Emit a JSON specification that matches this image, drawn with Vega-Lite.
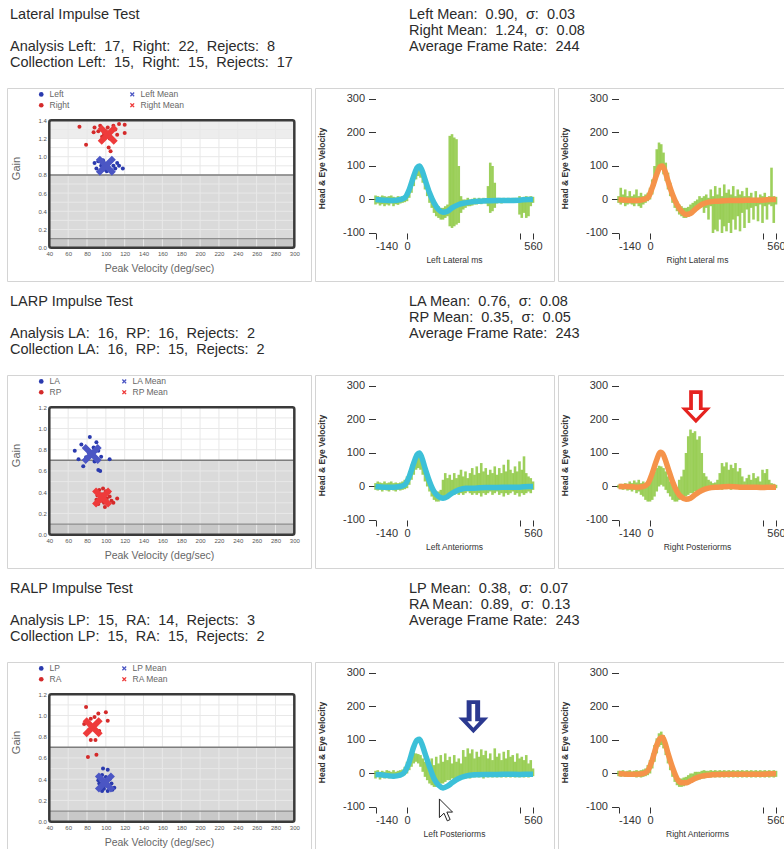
{
"$schema":"https://vega.github.io/schema/vega-lite/v6.json",
"padding":{"left":6,"top":0,"right":0,"bottom":0},
"background":"white",
"config":{"font":"Liberation Sans","view":{"stroke":"#d4d4d4","strokeWidth":1},"axis":{"labelFont":"Liberation Sans","titleFont":"Liberation Sans","labelOverlap":false,"labelSeparation":0},"legend":{"labelFont":"Liberation Sans"}},
"datasets":{
"hdr":[
{"r":1,"b":"L","ln":1,"txt":"Lateral Impulse Test"},
{"r":1,"b":"L","ln":3,"txt":"Analysis Left:\u00a0 17,\u00a0 Right:\u00a0 22,\u00a0 Rejects:\u00a0 8"},
{"r":1,"b":"L","ln":4,"txt":"Collection Left:\u00a0 15,\u00a0 Right:\u00a0 15,\u00a0 Rejects:\u00a0 17"},
{"r":1,"b":"R","ln":1,"txt":"Left Mean:\u00a0 0.90,\u00a0 σ:\u00a0 0.03"},
{"r":1,"b":"R","ln":2,"txt":"Right Mean:\u00a0 1.24,\u00a0 σ:\u00a0 0.08"},
{"r":1,"b":"R","ln":3,"txt":"Average Frame Rate:\u00a0 244"},
{"r":2,"b":"L","ln":1,"txt":"LARP Impulse Test"},
{"r":2,"b":"L","ln":3,"txt":"Analysis LA:\u00a0 16,\u00a0 RP:\u00a0 16,\u00a0 Rejects:\u00a0 2"},
{"r":2,"b":"L","ln":4,"txt":"Collection LA:\u00a0 16,\u00a0 RP:\u00a0 15,\u00a0 Rejects:\u00a0 2"},
{"r":2,"b":"R","ln":1,"txt":"LA Mean:\u00a0 0.76,\u00a0 σ:\u00a0 0.08"},
{"r":2,"b":"R","ln":2,"txt":"RP Mean:\u00a0 0.35,\u00a0 σ:\u00a0 0.05"},
{"r":2,"b":"R","ln":3,"txt":"Average Frame Rate:\u00a0 243"},
{"r":3,"b":"L","ln":1,"txt":"RALP Impulse Test"},
{"r":3,"b":"L","ln":3,"txt":"Analysis LP:\u00a0 15,\u00a0 RA:\u00a0 14,\u00a0 Rejects:\u00a0 3"},
{"r":3,"b":"L","ln":4,"txt":"Collection LP:\u00a0 15,\u00a0 RA:\u00a0 15,\u00a0 Rejects:\u00a0 2"},
{"r":3,"b":"R","ln":1,"txt":"LP Mean:\u00a0 0.38,\u00a0 σ:\u00a0 0.07"},
{"r":3,"b":"R","ln":2,"txt":"RA Mean:\u00a0 0.89,\u00a0 σ:\u00a0 0.13"},
{"r":3,"b":"R","ln":3,"txt":"Average Frame Rate:\u00a0 243"}
],
"gx":[{"x":60},{"x":80},{"x":100},{"x":120},{"x":140},{"x":160},{"x":180},{"x":200},{"x":220},{"x":240},{"x":260},{"x":280}],
"gy":[{"y":0.2},{"y":0.3},{"y":0.4},{"y":0.5},{"y":0.6},{"y":0.7},{"y":0.8},{"y":0.9},{"y":1.0},{"y":1.1},{"y":1.2},{"y":1.3}],
"pts":[
{"r":1,"s":"Left","v":88,"g":0.93},{"r":1,"s":"Left","v":90,"g":0.87},{"r":1,"s":"Left","v":92,"g":0.95},{"r":1,"s":"Left","v":94,"g":0.84},{"r":1,"s":"Left","v":95,"g":0.9},{"r":1,"s":"Left","v":97,"g":0.96},{"r":1,"s":"Left","v":98,"g":0.86},{"r":1,"s":"Left","v":100,"g":0.92},{"r":1,"s":"Left","v":101,"g":0.84},{"r":1,"s":"Left","v":103,"g":0.88},{"r":1,"s":"Left","v":105,"g":0.95},{"r":1,"s":"Left","v":106,"g":0.85},{"r":1,"s":"Left","v":108,"g":0.9},{"r":1,"s":"Left","v":110,"g":0.87},{"r":1,"s":"Left","v":112,"g":0.93},{"r":1,"s":"Left","v":114,"g":0.9},{"r":1,"s":"Left","v":118,"g":0.87},
{"r":1,"s":"Right","v":72,"g":1.33},{"r":1,"s":"Right","v":79,"g":1.13},{"r":1,"s":"Right","v":87,"g":1.27},{"r":1,"s":"Right","v":88,"g":1.32},{"r":1,"s":"Right","v":94,"g":1.34},{"r":1,"s":"Right","v":97,"g":1.3},{"r":1,"s":"Right","v":103,"g":1.1},{"r":1,"s":"Right","v":105,"g":1.06},{"r":1,"s":"Right","v":108,"g":1.34},{"r":1,"s":"Right","v":112,"g":1.24},{"r":1,"s":"Right","v":114,"g":1.36},{"r":1,"s":"Right","v":120,"g":1.26},{"r":1,"s":"Right","v":120,"g":1.35},{"r":1,"s":"Right","v":96,"g":1.22},{"r":1,"s":"Right","v":100,"g":1.28},{"r":1,"s":"Right","v":104,"g":1.2},{"r":1,"s":"Right","v":106,"g":1.28},{"r":1,"s":"Right","v":98,"g":1.25},{"r":1,"s":"Right","v":110,"g":1.3},{"r":1,"s":"Right","v":102,"g":1.32},{"r":1,"s":"Right","v":92,"g":1.28},{"r":1,"s":"Right","v":108,"g":1.18},
{"r":2,"s":"LA","v":83,"g":0.92},{"r":2,"s":"LA","v":74,"g":0.85},{"r":2,"s":"LA","v":67,"g":0.79},{"r":2,"s":"LA","v":71,"g":0.71},{"r":2,"s":"LA","v":76,"g":0.645},{"r":2,"s":"LA","v":90,"g":0.87},{"r":2,"s":"LA","v":92,"g":0.79},{"r":2,"s":"LA","v":92,"g":0.61},{"r":2,"s":"LA","v":94,"g":0.6},{"r":2,"s":"LA","v":104,"g":0.71},{"r":2,"s":"LA","v":79,"g":0.73},{"r":2,"s":"LA","v":88,"g":0.69},{"r":2,"s":"LA","v":87,"g":0.82},{"r":2,"s":"LA","v":82,"g":0.77},{"r":2,"s":"LA","v":95,"g":0.735},{"r":2,"s":"LA","v":86,"g":0.74},
{"r":2,"s":"RP","v":97,"g":0.435},{"r":2,"s":"RP","v":91,"g":0.37},{"r":2,"s":"RP","v":92,"g":0.29},{"r":2,"s":"RP","v":99,"g":0.26},{"r":2,"s":"RP","v":106,"g":0.32},{"r":2,"s":"RP","v":112,"g":0.34},{"r":2,"s":"RP","v":103,"g":0.4},{"r":2,"s":"RP","v":95,"g":0.32},{"r":2,"s":"RP","v":101,"g":0.34},{"r":2,"s":"RP","v":93,"g":0.42},{"r":2,"s":"RP","v":96,"g":0.38},{"r":2,"s":"RP","v":98,"g":0.3},{"r":2,"s":"RP","v":104,"g":0.36},{"r":2,"s":"RP","v":90,"g":0.33},{"r":2,"s":"RP","v":100,"g":0.41},{"r":2,"s":"RP","v":108,"g":0.3},
{"r":3,"s":"LP","v":97,"g":0.5},{"r":3,"s":"LP","v":102,"g":0.49},{"r":3,"s":"LP","v":92,"g":0.39},{"r":3,"s":"LP","v":109,"g":0.32},{"r":3,"s":"LP","v":96,"g":0.29},{"r":3,"s":"LP","v":102,"g":0.29},{"r":3,"s":"LP","v":96,"g":0.44},{"r":3,"s":"LP","v":104,"g":0.4},{"r":3,"s":"LP","v":100,"g":0.34},{"r":3,"s":"LP","v":94,"g":0.33},{"r":3,"s":"LP","v":106,"g":0.36},{"r":3,"s":"LP","v":98,"g":0.31},{"r":3,"s":"LP","v":100,"g":0.42},{"r":3,"s":"LP","v":93,"g":0.36},{"r":3,"s":"LP","v":107,"g":0.3},
{"r":3,"s":"RA","v":79,"g":1.08},{"r":3,"s":"RA","v":92,"g":1.02},{"r":3,"s":"RA","v":100,"g":1.03},{"r":3,"s":"RA","v":77,"g":0.92},{"r":3,"s":"RA","v":102,"g":0.95},{"r":3,"s":"RA","v":84,"g":0.97},{"r":3,"s":"RA","v":84,"g":0.77},{"r":3,"s":"RA","v":89,"g":0.77},{"r":3,"s":"RA","v":81,"g":0.61},{"r":3,"s":"RA","v":90,"g":0.63},{"r":3,"s":"RA","v":93,"g":0.855},{"r":3,"s":"RA","v":88,"g":0.985},{"r":3,"s":"RA","v":82,"g":0.86},{"r":3,"s":"RA","v":90,"g":0.92}
],
"mns":[
{"r":1,"s":"Left Mean","v":100,"g":0.9},{"r":1,"s":"Right Mean","v":102,"g":1.24},
{"r":2,"s":"LA Mean","v":85,"g":0.76},{"r":2,"s":"RP Mean","v":96,"g":0.35},
{"r":3,"s":"LP Mean","v":99,"g":0.37},{"r":3,"s":"RA Mean","v":86,"g":0.89}
],
"grn":[
{"p":"1b","t":-140,"lo":-15,"hi":12},{"p":"1b","t":-130,"lo":-12,"hi":10},{"p":"1b","t":-120,"lo":-18,"hi":8},{"p":"1b","t":-110,"lo":-14,"hi":12},{"p":"1b","t":-100,"lo":-20,"hi":10},{"p":"1b","t":-90,"lo":-15,"hi":8},{"p":"1b","t":-80,"lo":-18,"hi":10},{"p":"1b","t":-70,"lo":-12,"hi":12},{"p":"1b","t":-60,"lo":-20,"hi":8},{"p":"1b","t":-50,"lo":-14,"hi":6},{"p":"1b","t":-40,"lo":-16,"hi":10},{"p":"1b","t":-30,"lo":-12,"hi":8},{"p":"1b","t":-20,"lo":-10,"hi":10},{"p":"1b","t":-10,"lo":-8,"hi":12},{"p":"1b","t":0,"lo":-5,"hi":20},{"p":"1b","t":10,"lo":5,"hi":35},{"p":"1b","t":20,"lo":20,"hi":55},{"p":"1b","t":30,"lo":40,"hi":75},{"p":"1b","t":40,"lo":60,"hi":92},{"p":"1b","t":50,"lo":70,"hi":98},{"p":"1b","t":60,"lo":65,"hi":95},{"p":"1b","t":70,"lo":50,"hi":85},{"p":"1b","t":80,"lo":30,"hi":65},{"p":"1b","t":90,"lo":10,"hi":45},{"p":"1b","t":100,"lo":-10,"hi":25},{"p":"1b","t":110,"lo":-25,"hi":10},{"p":"1b","t":120,"lo":-40,"hi":-5},{"p":"1b","t":130,"lo":-50,"hi":-15},{"p":"1b","t":140,"lo":-55,"hi":-20},{"p":"1b","t":150,"lo":-60,"hi":-25},{"p":"1b","t":160,"lo":-60,"hi":-25},{"p":"1b","t":170,"lo":-55,"hi":-20},{"p":"1b","t":180,"lo":-50,"hi":-15},{"p":"1b","t":190,"lo":-80,"hi":190},{"p":"1b","t":200,"lo":-85,"hi":195},{"p":"1b","t":210,"lo":-80,"hi":185},{"p":"1b","t":220,"lo":-75,"hi":180},{"p":"1b","t":230,"lo":-70,"hi":100},{"p":"1b","t":240,"lo":-40,"hi":10},{"p":"1b","t":250,"lo":-30,"hi":0},{"p":"1b","t":260,"lo":-25,"hi":0},{"p":"1b","t":270,"lo":-20,"hi":5},{"p":"1b","t":280,"lo":-20,"hi":0},{"p":"1b","t":290,"lo":-18,"hi":2},{"p":"1b","t":300,"lo":-15,"hi":5},{"p":"1b","t":310,"lo":-15,"hi":0},{"p":"1b","t":320,"lo":-12,"hi":5},{"p":"1b","t":330,"lo":-14,"hi":2},{"p":"1b","t":340,"lo":-10,"hi":5},{"p":"1b","t":350,"lo":-12,"hi":3},{"p":"1b","t":360,"lo":-20,"hi":40},{"p":"1b","t":370,"lo":-40,"hi":110},{"p":"1b","t":380,"lo":-35,"hi":100},{"p":"1b","t":390,"lo":-25,"hi":50},{"p":"1b","t":400,"lo":-12,"hi":5},{"p":"1b","t":410,"lo":-10,"hi":5},{"p":"1b","t":420,"lo":-12,"hi":3},{"p":"1b","t":430,"lo":-10,"hi":5},{"p":"1b","t":440,"lo":-8,"hi":4},{"p":"1b","t":450,"lo":-10,"hi":5},{"p":"1b","t":460,"lo":-8,"hi":3},{"p":"1b","t":470,"lo":-10,"hi":5},{"p":"1b","t":480,"lo":-8,"hi":5},{"p":"1b","t":490,"lo":-10,"hi":3},{"p":"1b","t":500,"lo":-45,"hi":10},{"p":"1b","t":510,"lo":-55,"hi":5},{"p":"1b","t":520,"lo":-40,"hi":8},{"p":"1b","t":530,"lo":-55,"hi":10},{"p":"1b","t":540,"lo":-50,"hi":8},{"p":"1b","t":550,"lo":-20,"hi":10},{"p":"1b","t":560,"lo":-10,"hi":8},
{"p":"1c","t":-140,"lo":-10,"hi":10},{"p":"1c","t":-130,"lo":-15,"hi":35},{"p":"1c","t":-120,"lo":-10,"hi":15},{"p":"1c","t":-110,"lo":-20,"hi":30},{"p":"1c","t":-100,"lo":-15,"hi":10},{"p":"1c","t":-90,"lo":-12,"hi":25},{"p":"1c","t":-80,"lo":-15,"hi":10},{"p":"1c","t":-70,"lo":-20,"hi":15},{"p":"1c","t":-60,"lo":-12,"hi":30},{"p":"1c","t":-50,"lo":-20,"hi":10},{"p":"1c","t":-40,"lo":-25,"hi":20},{"p":"1c","t":-30,"lo":-15,"hi":10},{"p":"1c","t":-20,"lo":-10,"hi":15},{"p":"1c","t":-10,"lo":-5,"hi":20},{"p":"1c","t":0,"lo":0,"hi":35},{"p":"1c","t":10,"lo":15,"hi":60},{"p":"1c","t":20,"lo":40,"hi":100},{"p":"1c","t":30,"lo":70,"hi":150},{"p":"1c","t":40,"lo":90,"hi":170},{"p":"1c","t":50,"lo":90,"hi":165},{"p":"1c","t":60,"lo":75,"hi":140},{"p":"1c","t":70,"lo":55,"hi":110},{"p":"1c","t":80,"lo":30,"hi":80},{"p":"1c","t":90,"lo":10,"hi":50},{"p":"1c","t":100,"lo":-10,"hi":25},{"p":"1c","t":110,"lo":-25,"hi":5},{"p":"1c","t":120,"lo":-35,"hi":-5},{"p":"1c","t":130,"lo":-45,"hi":-15},{"p":"1c","t":140,"lo":-50,"hi":-20},{"p":"1c","t":150,"lo":-55,"hi":-25},{"p":"1c","t":160,"lo":-55,"hi":-25},{"p":"1c","t":170,"lo":-52,"hi":-22},{"p":"1c","t":180,"lo":-45,"hi":-15},{"p":"1c","t":190,"lo":-40,"hi":-10},{"p":"1c","t":200,"lo":-35,"hi":-5},{"p":"1c","t":210,"lo":-30,"hi":0},{"p":"1c","t":220,"lo":-25,"hi":10},{"p":"1c","t":230,"lo":-20,"hi":5},{"p":"1c","t":240,"lo":-40,"hi":10},{"p":"1c","t":250,"lo":-25,"hi":15},{"p":"1c","t":260,"lo":-60,"hi":5},{"p":"1c","t":270,"lo":-20,"hi":30},{"p":"1c","t":280,"lo":-100,"hi":10},{"p":"1c","t":290,"lo":-90,"hi":40},{"p":"1c","t":300,"lo":-95,"hi":15},{"p":"1c","t":310,"lo":-60,"hi":35},{"p":"1c","t":320,"lo":-100,"hi":10},{"p":"1c","t":330,"lo":-80,"hi":45},{"p":"1c","t":340,"lo":-95,"hi":20},{"p":"1c","t":350,"lo":-70,"hi":30},{"p":"1c","t":360,"lo":-100,"hi":15},{"p":"1c","t":370,"lo":-60,"hi":40},{"p":"1c","t":380,"lo":-90,"hi":10},{"p":"1c","t":390,"lo":-50,"hi":30},{"p":"1c","t":400,"lo":-95,"hi":15},{"p":"1c","t":410,"lo":-40,"hi":25},{"p":"1c","t":420,"lo":-85,"hi":10},{"p":"1c","t":430,"lo":-30,"hi":35},{"p":"1c","t":440,"lo":-70,"hi":10},{"p":"1c","t":450,"lo":-25,"hi":20},{"p":"1c","t":460,"lo":-60,"hi":5},{"p":"1c","t":470,"lo":-20,"hi":25},{"p":"1c","t":480,"lo":-65,"hi":5},{"p":"1c","t":490,"lo":-15,"hi":15},{"p":"1c","t":500,"lo":-70,"hi":10},{"p":"1c","t":510,"lo":-20,"hi":20},{"p":"1c","t":520,"lo":-60,"hi":5},{"p":"1c","t":530,"lo":-15,"hi":10},{"p":"1c","t":540,"lo":-20,"hi":95},{"p":"1c","t":550,"lo":-70,"hi":10},{"p":"1c","t":560,"lo":-15,"hi":8},
{"p":"2b","t":-140,"lo":-10,"hi":10},{"p":"2b","t":-130,"lo":-12,"hi":15},{"p":"2b","t":-120,"lo":-10,"hi":12},{"p":"2b","t":-110,"lo":-15,"hi":10},{"p":"2b","t":-100,"lo":-10,"hi":15},{"p":"2b","t":-90,"lo":-12,"hi":10},{"p":"2b","t":-80,"lo":-15,"hi":12},{"p":"2b","t":-70,"lo":-10,"hi":15},{"p":"2b","t":-60,"lo":-12,"hi":10},{"p":"2b","t":-50,"lo":-15,"hi":12},{"p":"2b","t":-40,"lo":-10,"hi":10},{"p":"2b","t":-30,"lo":-12,"hi":12},{"p":"2b","t":-20,"lo":-10,"hi":15},{"p":"2b","t":-10,"lo":-8,"hi":20},{"p":"2b","t":0,"lo":-5,"hi":30},{"p":"2b","t":10,"lo":5,"hi":45},{"p":"2b","t":20,"lo":20,"hi":65},{"p":"2b","t":30,"lo":35,"hi":80},{"p":"2b","t":40,"lo":50,"hi":90},{"p":"2b","t":50,"lo":55,"hi":92},{"p":"2b","t":60,"lo":50,"hi":85},{"p":"2b","t":70,"lo":35,"hi":70},{"p":"2b","t":80,"lo":15,"hi":50},{"p":"2b","t":90,"lo":0,"hi":30},{"p":"2b","t":100,"lo":-15,"hi":15},{"p":"2b","t":110,"lo":-30,"hi":0},{"p":"2b","t":120,"lo":-40,"hi":-10},{"p":"2b","t":130,"lo":-45,"hi":-15},{"p":"2b","t":140,"lo":-45,"hi":-15},{"p":"2b","t":150,"lo":-40,"hi":-10},{"p":"2b","t":160,"lo":-40,"hi":20},{"p":"2b","t":170,"lo":-35,"hi":40},{"p":"2b","t":180,"lo":-30,"hi":25},{"p":"2b","t":190,"lo":-30,"hi":35},{"p":"2b","t":200,"lo":-25,"hi":20},{"p":"2b","t":210,"lo":-25,"hi":40},{"p":"2b","t":220,"lo":-20,"hi":25},{"p":"2b","t":230,"lo":-25,"hi":35},{"p":"2b","t":240,"lo":-20,"hi":50},{"p":"2b","t":250,"lo":-25,"hi":30},{"p":"2b","t":260,"lo":-20,"hi":45},{"p":"2b","t":270,"lo":-15,"hi":25},{"p":"2b","t":280,"lo":-20,"hi":40},{"p":"2b","t":290,"lo":-25,"hi":55},{"p":"2b","t":300,"lo":-20,"hi":35},{"p":"2b","t":310,"lo":-25,"hi":60},{"p":"2b","t":320,"lo":-20,"hi":40},{"p":"2b","t":330,"lo":-30,"hi":70},{"p":"2b","t":340,"lo":-20,"hi":45},{"p":"2b","t":350,"lo":-25,"hi":55},{"p":"2b","t":360,"lo":-20,"hi":35},{"p":"2b","t":370,"lo":-15,"hi":50},{"p":"2b","t":380,"lo":-25,"hi":40},{"p":"2b","t":390,"lo":-20,"hi":60},{"p":"2b","t":400,"lo":-15,"hi":35},{"p":"2b","t":410,"lo":-25,"hi":55},{"p":"2b","t":420,"lo":-20,"hi":40},{"p":"2b","t":430,"lo":-30,"hi":65},{"p":"2b","t":440,"lo":-20,"hi":45},{"p":"2b","t":450,"lo":-25,"hi":80},{"p":"2b","t":460,"lo":-20,"hi":50},{"p":"2b","t":470,"lo":-15,"hi":40},{"p":"2b","t":480,"lo":-25,"hi":60},{"p":"2b","t":490,"lo":-20,"hi":45},{"p":"2b","t":500,"lo":-30,"hi":75},{"p":"2b","t":510,"lo":-20,"hi":50},{"p":"2b","t":520,"lo":-25,"hi":90},{"p":"2b","t":530,"lo":-20,"hi":40},{"p":"2b","t":540,"lo":-15,"hi":30},{"p":"2b","t":550,"lo":-20,"hi":25},{"p":"2b","t":560,"lo":-10,"hi":15},
{"p":"2c","t":-140,"lo":-5,"hi":5},{"p":"2c","t":-130,"lo":-8,"hi":8},{"p":"2c","t":-120,"lo":-10,"hi":5},{"p":"2c","t":-110,"lo":-8,"hi":10},{"p":"2c","t":-100,"lo":-12,"hi":8},{"p":"2c","t":-90,"lo":-10,"hi":15},{"p":"2c","t":-80,"lo":-15,"hi":10},{"p":"2c","t":-70,"lo":-10,"hi":18},{"p":"2c","t":-60,"lo":-20,"hi":12},{"p":"2c","t":-50,"lo":-15,"hi":20},{"p":"2c","t":-40,"lo":-25,"hi":10},{"p":"2c","t":-30,"lo":-30,"hi":15},{"p":"2c","t":-20,"lo":-40,"hi":10},{"p":"2c","t":-10,"lo":-45,"hi":15},{"p":"2c","t":0,"lo":-45,"hi":20},{"p":"2c","t":10,"lo":-40,"hi":30},{"p":"2c","t":20,"lo":-30,"hi":45},{"p":"2c","t":30,"lo":-15,"hi":55},{"p":"2c","t":40,"lo":0,"hi":62},{"p":"2c","t":50,"lo":5,"hi":60},{"p":"2c","t":60,"lo":0,"hi":55},{"p":"2c","t":70,"lo":-10,"hi":45},{"p":"2c","t":80,"lo":-20,"hi":30},{"p":"2c","t":90,"lo":-30,"hi":15},{"p":"2c","t":100,"lo":-40,"hi":5},{"p":"2c","t":110,"lo":-45,"hi":0},{"p":"2c","t":120,"lo":-45,"hi":-5},{"p":"2c","t":130,"lo":-40,"hi":20},{"p":"2c","t":140,"lo":-35,"hi":30},{"p":"2c","t":150,"lo":-30,"hi":50},{"p":"2c","t":160,"lo":-30,"hi":100},{"p":"2c","t":170,"lo":-25,"hi":150},{"p":"2c","t":180,"lo":-20,"hi":170},{"p":"2c","t":190,"lo":-20,"hi":160},{"p":"2c","t":200,"lo":-15,"hi":165},{"p":"2c","t":210,"lo":-15,"hi":140},{"p":"2c","t":220,"lo":-10,"hi":150},{"p":"2c","t":230,"lo":-10,"hi":100},{"p":"2c","t":240,"lo":-8,"hi":40},{"p":"2c","t":250,"lo":-8,"hi":30},{"p":"2c","t":260,"lo":-5,"hi":20},{"p":"2c","t":270,"lo":-10,"hi":15},{"p":"2c","t":280,"lo":-5,"hi":10},{"p":"2c","t":290,"lo":-8,"hi":12},{"p":"2c","t":300,"lo":-5,"hi":20},{"p":"2c","t":310,"lo":-8,"hi":40},{"p":"2c","t":320,"lo":-10,"hi":70},{"p":"2c","t":330,"lo":-5,"hi":60},{"p":"2c","t":340,"lo":-8,"hi":72},{"p":"2c","t":350,"lo":-5,"hi":50},{"p":"2c","t":360,"lo":-10,"hi":65},{"p":"2c","t":370,"lo":-5,"hi":55},{"p":"2c","t":380,"lo":-8,"hi":70},{"p":"2c","t":390,"lo":-5,"hi":45},{"p":"2c","t":400,"lo":-10,"hi":55},{"p":"2c","t":410,"lo":-5,"hi":30},{"p":"2c","t":420,"lo":-8,"hi":15},{"p":"2c","t":430,"lo":-5,"hi":25},{"p":"2c","t":440,"lo":-8,"hi":35},{"p":"2c","t":450,"lo":-5,"hi":20},{"p":"2c","t":460,"lo":-10,"hi":40},{"p":"2c","t":470,"lo":-5,"hi":25},{"p":"2c","t":480,"lo":-8,"hi":30},{"p":"2c","t":490,"lo":-5,"hi":15},{"p":"2c","t":500,"lo":-8,"hi":50},{"p":"2c","t":510,"lo":-5,"hi":40},{"p":"2c","t":520,"lo":-8,"hi":52},{"p":"2c","t":530,"lo":-5,"hi":20},{"p":"2c","t":540,"lo":-8,"hi":10},{"p":"2c","t":550,"lo":-5,"hi":8},{"p":"2c","t":560,"lo":-5,"hi":5},
{"p":"3b","t":-140,"lo":-15,"hi":8},{"p":"3b","t":-130,"lo":-10,"hi":10},{"p":"3b","t":-120,"lo":-18,"hi":5},{"p":"3b","t":-110,"lo":-12,"hi":8},{"p":"3b","t":-100,"lo":-15,"hi":5},{"p":"3b","t":-90,"lo":-10,"hi":10},{"p":"3b","t":-80,"lo":-15,"hi":8},{"p":"3b","t":-70,"lo":-12,"hi":5},{"p":"3b","t":-60,"lo":-15,"hi":10},{"p":"3b","t":-50,"lo":-10,"hi":5},{"p":"3b","t":-40,"lo":-12,"hi":8},{"p":"3b","t":-30,"lo":-10,"hi":10},{"p":"3b","t":-20,"lo":-8,"hi":12},{"p":"3b","t":-10,"lo":-5,"hi":20},{"p":"3b","t":0,"lo":0,"hi":35},{"p":"3b","t":10,"lo":10,"hi":50},{"p":"3b","t":20,"lo":20,"hi":60},{"p":"3b","t":30,"lo":30,"hi":62},{"p":"3b","t":40,"lo":35,"hi":60},{"p":"3b","t":50,"lo":30,"hi":58},{"p":"3b","t":60,"lo":20,"hi":55},{"p":"3b","t":70,"lo":5,"hi":45},{"p":"3b","t":80,"lo":-10,"hi":35},{"p":"3b","t":90,"lo":-20,"hi":40},{"p":"3b","t":100,"lo":-30,"hi":30},{"p":"3b","t":110,"lo":-35,"hi":45},{"p":"3b","t":120,"lo":-40,"hi":25},{"p":"3b","t":130,"lo":-40,"hi":50},{"p":"3b","t":140,"lo":-35,"hi":30},{"p":"3b","t":150,"lo":-30,"hi":55},{"p":"3b","t":160,"lo":-30,"hi":35},{"p":"3b","t":170,"lo":-25,"hi":60},{"p":"3b","t":180,"lo":-20,"hi":40},{"p":"3b","t":190,"lo":-20,"hi":50},{"p":"3b","t":200,"lo":-15,"hi":30},{"p":"3b","t":210,"lo":-20,"hi":55},{"p":"3b","t":220,"lo":-15,"hi":35},{"p":"3b","t":230,"lo":-18,"hi":45},{"p":"3b","t":240,"lo":-15,"hi":30},{"p":"3b","t":250,"lo":-12,"hi":70},{"p":"3b","t":260,"lo":-15,"hi":50},{"p":"3b","t":270,"lo":-12,"hi":75},{"p":"3b","t":280,"lo":-15,"hi":60},{"p":"3b","t":290,"lo":-10,"hi":72},{"p":"3b","t":300,"lo":-12,"hi":45},{"p":"3b","t":310,"lo":-10,"hi":65},{"p":"3b","t":320,"lo":-12,"hi":50},{"p":"3b","t":330,"lo":-10,"hi":72},{"p":"3b","t":340,"lo":-15,"hi":55},{"p":"3b","t":350,"lo":-10,"hi":68},{"p":"3b","t":360,"lo":-12,"hi":45},{"p":"3b","t":370,"lo":-10,"hi":60},{"p":"3b","t":380,"lo":-12,"hi":40},{"p":"3b","t":390,"lo":-10,"hi":75},{"p":"3b","t":400,"lo":-12,"hi":50},{"p":"3b","t":410,"lo":-10,"hi":60},{"p":"3b","t":420,"lo":-12,"hi":40},{"p":"3b","t":430,"lo":-10,"hi":65},{"p":"3b","t":440,"lo":-12,"hi":45},{"p":"3b","t":450,"lo":-10,"hi":70},{"p":"3b","t":460,"lo":-12,"hi":50},{"p":"3b","t":470,"lo":-10,"hi":55},{"p":"3b","t":480,"lo":-12,"hi":35},{"p":"3b","t":490,"lo":-10,"hi":60},{"p":"3b","t":500,"lo":-12,"hi":45},{"p":"3b","t":510,"lo":-10,"hi":50},{"p":"3b","t":520,"lo":-12,"hi":40},{"p":"3b","t":530,"lo":-10,"hi":55},{"p":"3b","t":540,"lo":-12,"hi":30},{"p":"3b","t":550,"lo":-10,"hi":40},{"p":"3b","t":560,"lo":-8,"hi":15},
{"p":"3c","t":-140,"lo":-8,"hi":8},{"p":"3c","t":-130,"lo":-10,"hi":8},{"p":"3c","t":-120,"lo":-8,"hi":10},{"p":"3c","t":-110,"lo":-10,"hi":6},{"p":"3c","t":-100,"lo":-8,"hi":8},{"p":"3c","t":-90,"lo":-10,"hi":10},{"p":"3c","t":-80,"lo":-8,"hi":6},{"p":"3c","t":-70,"lo":-10,"hi":8},{"p":"3c","t":-60,"lo":-12,"hi":10},{"p":"3c","t":-50,"lo":-10,"hi":8},{"p":"3c","t":-40,"lo":-12,"hi":10},{"p":"3c","t":-30,"lo":-10,"hi":12},{"p":"3c","t":-20,"lo":-8,"hi":15},{"p":"3c","t":-10,"lo":-5,"hi":25},{"p":"3c","t":0,"lo":0,"hi":40},{"p":"3c","t":10,"lo":15,"hi":60},{"p":"3c","t":20,"lo":35,"hi":85},{"p":"3c","t":30,"lo":60,"hi":105},{"p":"3c","t":40,"lo":80,"hi":120},{"p":"3c","t":50,"lo":85,"hi":125},{"p":"3c","t":60,"lo":75,"hi":115},{"p":"3c","t":70,"lo":55,"hi":95},{"p":"3c","t":80,"lo":30,"hi":70},{"p":"3c","t":90,"lo":10,"hi":45},{"p":"3c","t":100,"lo":-10,"hi":20},{"p":"3c","t":110,"lo":-25,"hi":0},{"p":"3c","t":120,"lo":-35,"hi":-10},{"p":"3c","t":130,"lo":-40,"hi":-15},{"p":"3c","t":140,"lo":-40,"hi":-15},{"p":"3c","t":150,"lo":-38,"hi":-12},{"p":"3c","t":160,"lo":-35,"hi":-10},{"p":"3c","t":170,"lo":-30,"hi":-5},{"p":"3c","t":180,"lo":-28,"hi":0},{"p":"3c","t":190,"lo":-25,"hi":0},{"p":"3c","t":200,"lo":-22,"hi":5},{"p":"3c","t":210,"lo":-20,"hi":5},{"p":"3c","t":220,"lo":-18,"hi":5},{"p":"3c","t":230,"lo":-15,"hi":8},{"p":"3c","t":240,"lo":-15,"hi":10},{"p":"3c","t":250,"lo":-12,"hi":8},{"p":"3c","t":260,"lo":-10,"hi":8},{"p":"3c","t":270,"lo":-12,"hi":10},{"p":"3c","t":280,"lo":-10,"hi":8},{"p":"3c","t":290,"lo":-12,"hi":10},{"p":"3c","t":300,"lo":-10,"hi":8},{"p":"3c","t":310,"lo":-12,"hi":10},{"p":"3c","t":320,"lo":-10,"hi":8},{"p":"3c","t":330,"lo":-12,"hi":10},{"p":"3c","t":340,"lo":-10,"hi":8},{"p":"3c","t":350,"lo":-12,"hi":10},{"p":"3c","t":360,"lo":-10,"hi":8},{"p":"3c","t":370,"lo":-12,"hi":10},{"p":"3c","t":380,"lo":-10,"hi":8},{"p":"3c","t":390,"lo":-12,"hi":10},{"p":"3c","t":400,"lo":-10,"hi":8},{"p":"3c","t":410,"lo":-12,"hi":10},{"p":"3c","t":420,"lo":-10,"hi":8},{"p":"3c","t":430,"lo":-12,"hi":10},{"p":"3c","t":440,"lo":-10,"hi":8},{"p":"3c","t":450,"lo":-12,"hi":10},{"p":"3c","t":460,"lo":-10,"hi":8},{"p":"3c","t":470,"lo":-12,"hi":10},{"p":"3c","t":480,"lo":-10,"hi":8},{"p":"3c","t":490,"lo":-12,"hi":10},{"p":"3c","t":500,"lo":-10,"hi":8},{"p":"3c","t":510,"lo":-12,"hi":10},{"p":"3c","t":520,"lo":-10,"hi":8},{"p":"3c","t":530,"lo":-12,"hi":10},{"p":"3c","t":540,"lo":-10,"hi":8},{"p":"3c","t":550,"lo":-12,"hi":10},{"p":"3c","t":560,"lo":-10,"hi":8}
],
"mln":[
{"p":"1b","t":-140,"v":0},{"p":"1b","t":-100,"v":-2},{"p":"1b","t":-60,"v":-3},{"p":"1b","t":-30,"v":0},{"p":"1b","t":-10,"v":5},{"p":"1b","t":10,"v":30},{"p":"1b","t":30,"v":70},{"p":"1b","t":45,"v":95},{"p":"1b","t":55,"v":100},{"p":"1b","t":65,"v":90},{"p":"1b","t":80,"v":60},{"p":"1b","t":100,"v":20},{"p":"1b","t":120,"v":-10},{"p":"1b","t":140,"v":-30},{"p":"1b","t":160,"v":-38},{"p":"1b","t":180,"v":-35},{"p":"1b","t":200,"v":-25},{"p":"1b","t":230,"v":-15},{"p":"1b","t":260,"v":-10},{"p":"1b","t":300,"v":-6},{"p":"1b","t":350,"v":-4},{"p":"1b","t":400,"v":-3},{"p":"1b","t":450,"v":-3},{"p":"1b","t":500,"v":-2},{"p":"1b","t":540,"v":0},{"p":"1b","t":560,"v":0},
{"p":"1c","t":-140,"v":0},{"p":"1c","t":-100,"v":-2},{"p":"1c","t":-60,"v":-3},{"p":"1c","t":-30,"v":0},{"p":"1c","t":-10,"v":5},{"p":"1c","t":10,"v":35},{"p":"1c","t":30,"v":75},{"p":"1c","t":45,"v":98},{"p":"1c","t":55,"v":100},{"p":"1c","t":65,"v":88},{"p":"1c","t":80,"v":55},{"p":"1c","t":100,"v":15},{"p":"1c","t":120,"v":-15},{"p":"1c","t":140,"v":-35},{"p":"1c","t":160,"v":-45},{"p":"1c","t":180,"v":-42},{"p":"1c","t":200,"v":-30},{"p":"1c","t":230,"v":-15},{"p":"1c","t":260,"v":-8},{"p":"1c","t":300,"v":-5},{"p":"1c","t":350,"v":-3},{"p":"1c","t":400,"v":-3},{"p":"1c","t":450,"v":-2},{"p":"1c","t":500,"v":-2},{"p":"1c","t":540,"v":0},{"p":"1c","t":560,"v":0},
{"p":"2b","t":-140,"v":0},{"p":"2b","t":-100,"v":-2},{"p":"2b","t":-60,"v":-2},{"p":"2b","t":-30,"v":0},{"p":"2b","t":-10,"v":5},{"p":"2b","t":10,"v":30},{"p":"2b","t":30,"v":70},{"p":"2b","t":45,"v":95},{"p":"2b","t":55,"v":100},{"p":"2b","t":65,"v":88},{"p":"2b","t":80,"v":55},{"p":"2b","t":100,"v":15},{"p":"2b","t":120,"v":-15},{"p":"2b","t":140,"v":-30},{"p":"2b","t":160,"v":-35},{"p":"2b","t":180,"v":-30},{"p":"2b","t":200,"v":-20},{"p":"2b","t":230,"v":-10},{"p":"2b","t":260,"v":-5},{"p":"2b","t":300,"v":-5},{"p":"2b","t":350,"v":-3},{"p":"2b","t":400,"v":-3},{"p":"2b","t":450,"v":-2},{"p":"2b","t":500,"v":-2},{"p":"2b","t":540,"v":0},{"p":"2b","t":560,"v":0},
{"p":"2c","t":-140,"v":0},{"p":"2c","t":-100,"v":0},{"p":"2c","t":-60,"v":-2},{"p":"2c","t":-30,"v":0},{"p":"2c","t":-10,"v":8},{"p":"2c","t":10,"v":40},{"p":"2c","t":30,"v":80},{"p":"2c","t":45,"v":102},{"p":"2c","t":55,"v":100},{"p":"2c","t":65,"v":85},{"p":"2c","t":80,"v":55},{"p":"2c","t":100,"v":15},{"p":"2c","t":120,"v":-15},{"p":"2c","t":140,"v":-32},{"p":"2c","t":160,"v":-38},{"p":"2c","t":180,"v":-35},{"p":"2c","t":200,"v":-25},{"p":"2c","t":230,"v":-12},{"p":"2c","t":260,"v":-5},{"p":"2c","t":300,"v":-2},{"p":"2c","t":350,"v":0},{"p":"2c","t":400,"v":-2},{"p":"2c","t":450,"v":-2},{"p":"2c","t":500,"v":-3},{"p":"2c","t":540,"v":-2},{"p":"2c","t":560,"v":-2},
{"p":"3b","t":-140,"v":-3},{"p":"3b","t":-100,"v":-5},{"p":"3b","t":-60,"v":-8},{"p":"3b","t":-30,"v":-5},{"p":"3b","t":-10,"v":5},{"p":"3b","t":10,"v":35},{"p":"3b","t":30,"v":80},{"p":"3b","t":45,"v":100},{"p":"3b","t":55,"v":102},{"p":"3b","t":65,"v":90},{"p":"3b","t":80,"v":60},{"p":"3b","t":100,"v":20},{"p":"3b","t":120,"v":-15},{"p":"3b","t":140,"v":-35},{"p":"3b","t":160,"v":-43},{"p":"3b","t":180,"v":-38},{"p":"3b","t":200,"v":-28},{"p":"3b","t":230,"v":-15},{"p":"3b","t":260,"v":-8},{"p":"3b","t":300,"v":-4},{"p":"3b","t":350,"v":-3},{"p":"3b","t":400,"v":-3},{"p":"3b","t":450,"v":-2},{"p":"3b","t":500,"v":-3},{"p":"3b","t":540,"v":-2},{"p":"3b","t":560,"v":-2},
{"p":"3c","t":-140,"v":0},{"p":"3c","t":-100,"v":-2},{"p":"3c","t":-60,"v":-2},{"p":"3c","t":-30,"v":0},{"p":"3c","t":-10,"v":8},{"p":"3c","t":10,"v":40},{"p":"3c","t":30,"v":85},{"p":"3c","t":45,"v":105},{"p":"3c","t":55,"v":108},{"p":"3c","t":65,"v":95},{"p":"3c","t":80,"v":60},{"p":"3c","t":100,"v":18},{"p":"3c","t":120,"v":-15},{"p":"3c","t":140,"v":-28},{"p":"3c","t":160,"v":-28},{"p":"3c","t":180,"v":-22},{"p":"3c","t":200,"v":-15},{"p":"3c","t":230,"v":-8},{"p":"3c","t":260,"v":-5},{"p":"3c","t":300,"v":-3},{"p":"3c","t":350,"v":-2},{"p":"3c","t":400,"v":-2},{"p":"3c","t":450,"v":-2},{"p":"3c","t":500,"v":-2},{"p":"3c","t":540,"v":-1},{"p":"3c","t":560,"v":-1}
],
"ann":[
{"p":"2c","k":"arrow","t":204,"v":238},
{"p":"3b","k":"arrow","t":295,"v":169},
{"p":"3b","k":"cursor","t":144,"v":-76}
]
},
"spacing":5,
"resolve":{"scale":{"x":"independent","y":"independent","color":"independent","shape":"independent"},"axis":{"x":"independent","y":"independent"},"legend":{"color":"independent","shape":"independent"}},
"vconcat":[
{"spacing":7,
"resolve":{"scale":{"x":"independent","y":"independent","color":"independent","shape":"independent"},"axis":{"x":"independent","y":"independent"},"legend":{"color":"independent","shape":"independent"}},
"vconcat":[
{"width":777,"height":80,"view":{"stroke":null},"data":{"name":"hdr"},"transform":[{"filter":"datum.r == 1"}],
"mark":{"type":"text","align":"left","baseline":"alphabetic","fontSize":14.5,"color":"#2b2b2b"},
"encoding":{"x":{"field":"b","type":"nominal","scale":{"type":"point","domain":["L","R"],"range":[3,402],"padding":0},"axis":null},"y":{"field":"ln","type":"quantitative","scale":{"domain":[0,5],"range":[3,83]},"axis":null},"text":{"field":"txt"}}},
{"hconcat":[
{"width":304,"height":193,"layer":[
{"data":{"values":[{}]},"mark":{"type":"rect","color":"#ededed"},"encoding":{"x":{"datum":40,"type":"quantitative","scale":{"domain":[-4.9,317.7],"nice":false,"zero":false},"axis":{"values":[40,60,80,100,120,140,160,180,200,220,240,260,280,300],"tickCount":100,"offset":-33.3,"domain":false,"ticks":false,"grid":false,"labelFontSize":6,"labelColor":"#555","labelPadding":3,"labelOverlap":false,"labelFlush":false,"title":"Peak Velocity (deg/sec)","titleFontSize":10.5,"titleFontWeight":"normal","titleColor":"#666","titlePadding":7}},"x2":{"datum":300},"y":{"datum":1.2,"type":"quantitative","scale":{"domain":[-0.366,1.755],"nice":false,"zero":false},"axis":{"values":[0,0.2,0.4,0.6,0.8,1.0,1.2,1.4],"tickCount":100,"format":".1f","offset":-42.3,"domain":false,"ticks":false,"grid":false,"labelFontSize":6,"labelColor":"#555","labelPadding":3,"labelOverlap":false,"labelFlush":false,"title":"Gain","titleFontSize":11,"titleFontWeight":"normal","titleColor":"#666","titleX":-28.3,"titleY":80}},"y2":{"datum":1.4}}},
{"data":{"values":[{}]},"mark":{"type":"rect","color":"#dadada"},"encoding":{"x":{"datum":40,"type":"quantitative"},"x2":{"datum":300},"y":{"datum":0.1,"type":"quantitative"},"y2":{"datum":0.8}}},
{"data":{"values":[{}]},"mark":{"type":"rect","color":"#c8c8c8"},"encoding":{"x":{"datum":40,"type":"quantitative"},"x2":{"datum":300},"y":{"datum":0,"type":"quantitative"},"y2":{"datum":0.1}}},
{"data":{"name":"gx"},"mark":{"type":"rule","color":"#e8e8e8","strokeWidth":1},"encoding":{"x":{"field":"x","type":"quantitative"},"y":{"datum":0,"type":"quantitative"},"y2":{"datum":1.4}}},
{"data":{"name":"gy"},"transform":[{"filter":"datum.y < 1.39"}],"mark":{"type":"rule","color":"#e8e8e8","strokeWidth":1},"encoding":{"y":{"field":"y","type":"quantitative"},"x":{"datum":40,"type":"quantitative"},"x2":{"datum":300}}},
{"data":{"values":[{}]},"mark":{"type":"rule","color":"#7d7d7d","strokeWidth":1.5},"encoding":{"x":{"datum":40,"type":"quantitative"},"x2":{"datum":300},"y":{"datum":0.8,"type":"quantitative"}}},
{"data":{"values":[{}]},"mark":{"type":"rule","color":"#8e8e8e","strokeWidth":1.2},"encoding":{"x":{"datum":40,"type":"quantitative"},"x2":{"datum":300},"y":{"datum":0.1,"type":"quantitative"}}},
{"data":{"name":"pts"},"transform":[{"filter":"datum.r == 1"}],"mark":{"type":"point","filled":true,"size":16,"opacity":1},"encoding":{"x":{"field":"v","type":"quantitative"},"y":{"field":"g","type":"quantitative"},
"color":{"field":"s","type":"nominal","scale":{"domain":["Left","Left Mean","Right","Right Mean"],"range":["#2a3aae","#4b56c4","#d42a2a","#ee3b3b"]},"legend":{"title":null,"orient":"none","legendX":30,"legendY":2,"direction":"horizontal","columns":2,"columnPadding":58,"rowPadding":2,"symbolSize":22,"labelFontSize":8.5,"labelColor":"#666","labelOffset":4}},
"shape":{"field":"s","type":"nominal","scale":{"domain":["Left","Left Mean","Right","Right Mean"],"range":["circle","M-1,-0.6L-0.6,-1L0,-0.4L0.6,-1L1,-0.6L0.4,0L1,0.6L0.6,1L0,0.4L-0.6,1L-1,0.6L-0.4,0Z","circle","M-1,-0.6L-0.6,-1L0,-0.4L0.6,-1L1,-0.6L0.4,0L1,0.6L0.6,1L0,0.4L-0.6,1L-1,0.6L-0.4,0Z"]},"legend":{"title":null,"orient":"none","legendX":30,"legendY":2,"direction":"horizontal","columns":2,"columnPadding":58,"rowPadding":2,"symbolSize":22,"labelFontSize":8.5,"labelColor":"#666","labelOffset":4}}}},
{"data":{"name":"mns"},"transform":[{"filter":"datum.r == 1"}],"mark":{"type":"point","filled":true,"size":400,"opacity":1},"encoding":{"x":{"field":"v","type":"quantitative"},"y":{"field":"g","type":"quantitative"},
"color":{"field":"s","type":"nominal","scale":{"domain":["Left","Left Mean","Right","Right Mean"],"range":["#2a3aae","#4b56c4","#d42a2a","#ee3b3b"]},"legend":{"title":null,"orient":"none","legendX":30,"legendY":2,"direction":"horizontal","columns":2,"columnPadding":58,"rowPadding":2,"symbolSize":22,"labelFontSize":8.5,"labelColor":"#666","labelOffset":4}},
"shape":{"field":"s","type":"nominal","scale":{"domain":["Left","Left Mean","Right","Right Mean"],"range":["circle","M-1,-0.6L-0.6,-1L0,-0.4L0.6,-1L1,-0.6L0.4,0L1,0.6L0.6,1L0,0.4L-0.6,1L-1,0.6L-0.4,0Z","circle","M-1,-0.6L-0.6,-1L0,-0.4L0.6,-1L1,-0.6L0.4,0L1,0.6L0.6,1L0,0.4L-0.6,1L-1,0.6L-0.4,0Z"]},"legend":{"title":null,"orient":"none","legendX":30,"legendY":2,"direction":"horizontal","columns":2,"columnPadding":58,"rowPadding":2,"symbolSize":22,"labelFontSize":8.5,"labelColor":"#666","labelOffset":4}}}},
{"data":{"values":[{}]},"mark":{"type":"rect","fillOpacity":0,"stroke":"#3a3a3a","strokeWidth":2.5,"cornerRadius":2},"encoding":{"x":{"datum":40,"type":"quantitative"},"x2":{"datum":300},"y":{"datum":0,"type":"quantitative"},"y2":{"datum":1.4}}}
]},
{"width":239,"height":193,"layer":[
{"data":{"name":"grn"},"transform":[{"filter":"datum.p == '1b'"}],"mark":{"type":"rule","color":"#8cc83f","strokeWidth":2.6,"opacity":0.85},"encoding":{"x":{"field":"t","type":"quantitative","scale":{"domain":[-408.9,653.3],"nice":false,"zero":false},"axis":{"values":[-140,0,500,560],"tickCount":100,"labelExpr":"datum.value == 500 ? '' : '' + datum.value","offset":-48,"domain":false,"grid":false,"tickSize":6,"tickColor":"#333","labelFontSize":11,"labelColor":"#333","labelPadding":1,"labelFlush":false,"labelOverlap":false,"labelAlign":{"condition":{"test":"datum.value == -140","value":"left"},"value":"center"},"title":"Left Lateral ms","titleFontSize":8.5,"titleFontWeight":"normal","titleColor":"#333","titlePadding":4,"titleX":139}},"y":{"field":"lo","type":"quantitative","scale":{"domain":[-243.3,332.8],"nice":false,"zero":false},"axis":{"values":[-100,0,100,200,300],"tickCount":100,"labelExpr":"'' + datum.value","offset":-60.5,"domain":false,"grid":false,"tickSize":7,"tickColor":"#333","labelFontSize":11,"labelColor":"#333","labelPadding":4,"title":"Head & Eye Velocity","titleFontSize":8.5,"titleFontWeight":600,"titleColor":"#333","titleX":-49.5,"titleY":80}},"y2":{"field":"hi"}}},
{"data":{"name":"mln"},"transform":[{"filter":"datum.p == '1b'"}],"mark":{"type":"line","color":"#3cc0d8","strokeWidth":5.5,"interpolate":"monotone"},"encoding":{"x":{"field":"t","type":"quantitative"},"y":{"field":"v","type":"quantitative"}}}
]},
{"width":230,"height":193,"layer":[
{"data":{"name":"grn"},"transform":[{"filter":"datum.p == '1c'"}],"mark":{"type":"rule","color":"#8cc83f","strokeWidth":2.6,"opacity":0.85},"encoding":{"x":{"field":"t","type":"quantitative","scale":{"domain":[-408.9,613.3],"nice":false,"zero":false},"axis":{"values":[-140,0,500,560],"tickCount":100,"labelExpr":"datum.value == 500 ? '' : '' + datum.value","offset":-48,"domain":false,"grid":false,"tickSize":6,"tickColor":"#333","labelFontSize":11,"labelColor":"#333","labelPadding":1,"labelFlush":false,"labelOverlap":false,"labelAlign":{"condition":{"test":"datum.value == -140","value":"left"},"value":"center"},"title":"Right Lateral ms","titleFontSize":8.5,"titleFontWeight":"normal","titleColor":"#333","titlePadding":4,"titleX":139}},"y":{"field":"lo","type":"quantitative","scale":{"domain":[-243.3,332.8],"nice":false,"zero":false},"axis":{"values":[-100,0,100,200,300],"tickCount":100,"labelExpr":"'' + datum.value","offset":-60.5,"domain":false,"grid":false,"tickSize":7,"tickColor":"#333","labelFontSize":11,"labelColor":"#333","labelPadding":4,"title":"Head & Eye Velocity","titleFontSize":8.5,"titleFontWeight":600,"titleColor":"#333","titleX":-49.5,"titleY":80}},"y2":{"field":"hi"}}},
{"data":{"name":"mln"},"transform":[{"filter":"datum.p == '1c'"}],"mark":{"type":"line","color":"#f5934a","strokeWidth":5.5,"interpolate":"monotone"},"encoding":{"x":{"field":"t","type":"quantitative"},"y":{"field":"v","type":"quantitative"}}}
]}
],"spacing":2,
"resolve":{"scale":{"x":"independent","y":"independent","color":"independent","shape":"independent"},"axis":{"x":"independent","y":"independent"},"legend":{"color":"independent","shape":"independent"}}}
]},
{"spacing":7,
"resolve":{"scale":{"x":"independent","y":"independent","color":"independent","shape":"independent"},"axis":{"x":"independent","y":"independent"},"legend":{"color":"independent","shape":"independent"}},
"vconcat":[
{"width":777,"height":80,"view":{"stroke":null},"data":{"name":"hdr"},"transform":[{"filter":"datum.r == 2"}],
"mark":{"type":"text","align":"left","baseline":"alphabetic","fontSize":14.5,"color":"#2b2b2b"},
"encoding":{"x":{"field":"b","type":"nominal","scale":{"type":"point","domain":["L","R"],"range":[3,402],"padding":0},"axis":null},"y":{"field":"ln","type":"quantitative","scale":{"domain":[0,5],"range":[3,83]},"axis":null},"text":{"field":"txt"}}},
{"hconcat":[
{"width":304,"height":193,"layer":[
{"data":{"values":[{}]},"mark":{"type":"rect","color":"#dadada"},"encoding":{"x":{"datum":40,"type":"quantitative","scale":{"domain":[-4.9,317.7],"nice":false,"zero":false},"axis":{"values":[40,60,80,100,120,140,160,180,200,220,240,260,280,300],"tickCount":100,"offset":-33.3,"domain":false,"ticks":false,"grid":false,"labelFontSize":6,"labelColor":"#555","labelPadding":3,"labelOverlap":false,"labelFlush":false,"title":"Peak Velocity (deg/sec)","titleFontSize":10.5,"titleFontWeight":"normal","titleColor":"#666","titlePadding":7}},"x2":{"datum":300},"y":{"datum":0.1,"type":"quantitative","scale":{"domain":[-0.314,1.504],"nice":false,"zero":false},"axis":{"values":[0,0.2,0.4,0.6,0.8,1.0,1.2],"tickCount":100,"format":".1f","offset":-42.3,"domain":false,"ticks":false,"grid":false,"labelFontSize":6,"labelColor":"#555","labelPadding":3,"labelOverlap":false,"labelFlush":false,"title":"Gain","titleFontSize":11,"titleFontWeight":"normal","titleColor":"#666","titleX":-28.3,"titleY":80}},"y2":{"datum":0.7}}},
{"data":{"values":[{}]},"mark":{"type":"rect","color":"#c8c8c8"},"encoding":{"x":{"datum":40,"type":"quantitative"},"x2":{"datum":300},"y":{"datum":0,"type":"quantitative"},"y2":{"datum":0.1}}},
{"data":{"name":"gx"},"mark":{"type":"rule","color":"#e8e8e8","strokeWidth":1},"encoding":{"x":{"field":"x","type":"quantitative"},"y":{"datum":0,"type":"quantitative"},"y2":{"datum":1.2}}},
{"data":{"name":"gy"},"transform":[{"filter":"datum.y < 1.19"}],"mark":{"type":"rule","color":"#e8e8e8","strokeWidth":1},"encoding":{"y":{"field":"y","type":"quantitative"},"x":{"datum":40,"type":"quantitative"},"x2":{"datum":300}}},
{"data":{"values":[{}]},"mark":{"type":"rule","color":"#7d7d7d","strokeWidth":1.5},"encoding":{"x":{"datum":40,"type":"quantitative"},"x2":{"datum":300},"y":{"datum":0.7,"type":"quantitative"}}},
{"data":{"values":[{}]},"mark":{"type":"rule","color":"#8e8e8e","strokeWidth":1.2},"encoding":{"x":{"datum":40,"type":"quantitative"},"x2":{"datum":300},"y":{"datum":0.1,"type":"quantitative"}}},
{"data":{"name":"pts"},"transform":[{"filter":"datum.r == 2"}],"mark":{"type":"point","filled":true,"size":16,"opacity":1},"encoding":{"x":{"field":"v","type":"quantitative"},"y":{"field":"g","type":"quantitative"},
"color":{"field":"s","type":"nominal","scale":{"domain":["LA","LA Mean","RP","RP Mean"],"range":["#2a3aae","#4b56c4","#d42a2a","#ee3b3b"]},"legend":{"title":null,"orient":"none","legendX":30,"legendY":2,"direction":"horizontal","columns":2,"columnPadding":58,"rowPadding":2,"symbolSize":22,"labelFontSize":8.5,"labelColor":"#666","labelOffset":4}},
"shape":{"field":"s","type":"nominal","scale":{"domain":["LA","LA Mean","RP","RP Mean"],"range":["circle","M-1,-0.6L-0.6,-1L0,-0.4L0.6,-1L1,-0.6L0.4,0L1,0.6L0.6,1L0,0.4L-0.6,1L-1,0.6L-0.4,0Z","circle","M-1,-0.6L-0.6,-1L0,-0.4L0.6,-1L1,-0.6L0.4,0L1,0.6L0.6,1L0,0.4L-0.6,1L-1,0.6L-0.4,0Z"]},"legend":{"title":null,"orient":"none","legendX":30,"legendY":2,"direction":"horizontal","columns":2,"columnPadding":58,"rowPadding":2,"symbolSize":22,"labelFontSize":8.5,"labelColor":"#666","labelOffset":4}}}},
{"data":{"name":"mns"},"transform":[{"filter":"datum.r == 2"}],"mark":{"type":"point","filled":true,"size":400,"opacity":1},"encoding":{"x":{"field":"v","type":"quantitative"},"y":{"field":"g","type":"quantitative"},
"color":{"field":"s","type":"nominal","scale":{"domain":["LA","LA Mean","RP","RP Mean"],"range":["#2a3aae","#4b56c4","#d42a2a","#ee3b3b"]},"legend":{"title":null,"orient":"none","legendX":30,"legendY":2,"direction":"horizontal","columns":2,"columnPadding":58,"rowPadding":2,"symbolSize":22,"labelFontSize":8.5,"labelColor":"#666","labelOffset":4}},
"shape":{"field":"s","type":"nominal","scale":{"domain":["LA","LA Mean","RP","RP Mean"],"range":["circle","M-1,-0.6L-0.6,-1L0,-0.4L0.6,-1L1,-0.6L0.4,0L1,0.6L0.6,1L0,0.4L-0.6,1L-1,0.6L-0.4,0Z","circle","M-1,-0.6L-0.6,-1L0,-0.4L0.6,-1L1,-0.6L0.4,0L1,0.6L0.6,1L0,0.4L-0.6,1L-1,0.6L-0.4,0Z"]},"legend":{"title":null,"orient":"none","legendX":30,"legendY":2,"direction":"horizontal","columns":2,"columnPadding":58,"rowPadding":2,"symbolSize":22,"labelFontSize":8.5,"labelColor":"#666","labelOffset":4}}}},
{"data":{"values":[{}]},"mark":{"type":"rect","fillOpacity":0,"stroke":"#3a3a3a","strokeWidth":2.5,"cornerRadius":2},"encoding":{"x":{"datum":40,"type":"quantitative"},"x2":{"datum":300},"y":{"datum":0,"type":"quantitative"},"y2":{"datum":1.2}}}
]},
{"width":239,"height":193,"layer":[
{"data":{"name":"grn"},"transform":[{"filter":"datum.p == '2b'"}],"mark":{"type":"rule","color":"#8cc83f","strokeWidth":2.6,"opacity":0.85},"encoding":{"x":{"field":"t","type":"quantitative","scale":{"domain":[-408.9,653.3],"nice":false,"zero":false},"axis":{"values":[-140,0,500,560],"tickCount":100,"labelExpr":"datum.value == 500 ? '' : '' + datum.value","offset":-48,"domain":false,"grid":false,"tickSize":6,"tickColor":"#333","labelFontSize":11,"labelColor":"#333","labelPadding":1,"labelFlush":false,"labelOverlap":false,"labelAlign":{"condition":{"test":"datum.value == -140","value":"left"},"value":"center"},"title":"Left Anteriorms","titleFontSize":8.5,"titleFontWeight":"normal","titleColor":"#333","titlePadding":4,"titleX":139}},"y":{"field":"lo","type":"quantitative","scale":{"domain":[-243.3,332.8],"nice":false,"zero":false},"axis":{"values":[-100,0,100,200,300],"tickCount":100,"labelExpr":"'' + datum.value","offset":-60.5,"domain":false,"grid":false,"tickSize":7,"tickColor":"#333","labelFontSize":11,"labelColor":"#333","labelPadding":4,"title":"Head & Eye Velocity","titleFontSize":8.5,"titleFontWeight":600,"titleColor":"#333","titleX":-49.5,"titleY":80}},"y2":{"field":"hi"}}},
{"data":{"name":"mln"},"transform":[{"filter":"datum.p == '2b'"}],"mark":{"type":"line","color":"#3cc0d8","strokeWidth":5.5,"interpolate":"monotone"},"encoding":{"x":{"field":"t","type":"quantitative"},"y":{"field":"v","type":"quantitative"}}}
]},
{"width":230,"height":193,"layer":[
{"data":{"name":"grn"},"transform":[{"filter":"datum.p == '2c'"}],"mark":{"type":"rule","color":"#8cc83f","strokeWidth":2.6,"opacity":0.85},"encoding":{"x":{"field":"t","type":"quantitative","scale":{"domain":[-408.9,613.3],"nice":false,"zero":false},"axis":{"values":[-140,0,500,560],"tickCount":100,"labelExpr":"datum.value == 500 ? '' : '' + datum.value","offset":-48,"domain":false,"grid":false,"tickSize":6,"tickColor":"#333","labelFontSize":11,"labelColor":"#333","labelPadding":1,"labelFlush":false,"labelOverlap":false,"labelAlign":{"condition":{"test":"datum.value == -140","value":"left"},"value":"center"},"title":"Right Posteriorms","titleFontSize":8.5,"titleFontWeight":"normal","titleColor":"#333","titlePadding":4,"titleX":139}},"y":{"field":"lo","type":"quantitative","scale":{"domain":[-243.3,332.8],"nice":false,"zero":false},"axis":{"values":[-100,0,100,200,300],"tickCount":100,"labelExpr":"'' + datum.value","offset":-60.5,"domain":false,"grid":false,"tickSize":7,"tickColor":"#333","labelFontSize":11,"labelColor":"#333","labelPadding":4,"title":"Head & Eye Velocity","titleFontSize":8.5,"titleFontWeight":600,"titleColor":"#333","titleX":-49.5,"titleY":80}},"y2":{"field":"hi"}}},
{"data":{"name":"mln"},"transform":[{"filter":"datum.p == '2c'"}],"mark":{"type":"line","color":"#f5934a","strokeWidth":5.5,"interpolate":"monotone"},"encoding":{"x":{"field":"t","type":"quantitative"},"y":{"field":"v","type":"quantitative"}}},
{"data":{"name":"ann"},"transform":[{"filter":"datum.p == '2c' && datum.k == 'arrow'"}],"mark":{"type":"point","shape":"M-0.45,-1.1L0.45,-1.1L0.45,0.05L1,0.05L0,1.1L-1,0.05L-0.45,0.05Z","filled":true,"color":"#e5231f","size":900,"opacity":1},"encoding":{"x":{"field":"t","type":"quantitative"},"y":{"field":"v","type":"quantitative"}}},
{"data":{"name":"ann"},"transform":[{"filter":"datum.p == '2c' && datum.k == 'arrow'"}],"mark":{"type":"point","shape":"M-0.2,-0.85L0.2,-0.85L0.2,0.22L0.55,0.22L0,0.78L-0.55,0.22L-0.2,0.22Z","filled":true,"color":"#ffffff","size":900,"opacity":1},"encoding":{"x":{"field":"t","type":"quantitative"},"y":{"field":"v","type":"quantitative"}}}
]}
],"spacing":2,
"resolve":{"scale":{"x":"independent","y":"independent","color":"independent","shape":"independent"},"axis":{"x":"independent","y":"independent"},"legend":{"color":"independent","shape":"independent"}}}
]},
{"spacing":7,
"resolve":{"scale":{"x":"independent","y":"independent","color":"independent","shape":"independent"},"axis":{"x":"independent","y":"independent"},"legend":{"color":"independent","shape":"independent"}},
"vconcat":[
{"width":777,"height":80,"view":{"stroke":null},"data":{"name":"hdr"},"transform":[{"filter":"datum.r == 3"}],
"mark":{"type":"text","align":"left","baseline":"alphabetic","fontSize":14.5,"color":"#2b2b2b"},
"encoding":{"x":{"field":"b","type":"nominal","scale":{"type":"point","domain":["L","R"],"range":[3,402],"padding":0},"axis":null},"y":{"field":"ln","type":"quantitative","scale":{"domain":[0,5],"range":[3,83]},"axis":null},"text":{"field":"txt"}}},
{"hconcat":[
{"width":304,"height":193,"layer":[
{"data":{"values":[{}]},"mark":{"type":"rect","color":"#dadada"},"encoding":{"x":{"datum":40,"type":"quantitative","scale":{"domain":[-4.9,317.7],"nice":false,"zero":false},"axis":{"values":[40,60,80,100,120,140,160,180,200,220,240,260,280,300],"tickCount":100,"offset":-33.3,"domain":false,"ticks":false,"grid":false,"labelFontSize":6,"labelColor":"#555","labelPadding":3,"labelOverlap":false,"labelFlush":false,"title":"Peak Velocity (deg/sec)","titleFontSize":10.5,"titleFontWeight":"normal","titleColor":"#666","titlePadding":7}},"x2":{"datum":300},"y":{"datum":0.1,"type":"quantitative","scale":{"domain":[-0.314,1.504],"nice":false,"zero":false},"axis":{"values":[0,0.2,0.4,0.6,0.8,1.0,1.2],"tickCount":100,"format":".1f","offset":-42.3,"domain":false,"ticks":false,"grid":false,"labelFontSize":6,"labelColor":"#555","labelPadding":3,"labelOverlap":false,"labelFlush":false,"title":"Gain","titleFontSize":11,"titleFontWeight":"normal","titleColor":"#666","titleX":-28.3,"titleY":80}},"y2":{"datum":0.7}}},
{"data":{"values":[{}]},"mark":{"type":"rect","color":"#c8c8c8"},"encoding":{"x":{"datum":40,"type":"quantitative"},"x2":{"datum":300},"y":{"datum":0,"type":"quantitative"},"y2":{"datum":0.1}}},
{"data":{"name":"gx"},"mark":{"type":"rule","color":"#e8e8e8","strokeWidth":1},"encoding":{"x":{"field":"x","type":"quantitative"},"y":{"datum":0,"type":"quantitative"},"y2":{"datum":1.2}}},
{"data":{"name":"gy"},"transform":[{"filter":"datum.y < 1.19"}],"mark":{"type":"rule","color":"#e8e8e8","strokeWidth":1},"encoding":{"y":{"field":"y","type":"quantitative"},"x":{"datum":40,"type":"quantitative"},"x2":{"datum":300}}},
{"data":{"values":[{}]},"mark":{"type":"rule","color":"#7d7d7d","strokeWidth":1.5},"encoding":{"x":{"datum":40,"type":"quantitative"},"x2":{"datum":300},"y":{"datum":0.7,"type":"quantitative"}}},
{"data":{"values":[{}]},"mark":{"type":"rule","color":"#8e8e8e","strokeWidth":1.2},"encoding":{"x":{"datum":40,"type":"quantitative"},"x2":{"datum":300},"y":{"datum":0.1,"type":"quantitative"}}},
{"data":{"name":"pts"},"transform":[{"filter":"datum.r == 3"}],"mark":{"type":"point","filled":true,"size":16,"opacity":1},"encoding":{"x":{"field":"v","type":"quantitative"},"y":{"field":"g","type":"quantitative"},
"color":{"field":"s","type":"nominal","scale":{"domain":["LP","LP Mean","RA","RA Mean"],"range":["#2a3aae","#4b56c4","#d42a2a","#ee3b3b"]},"legend":{"title":null,"orient":"none","legendX":30,"legendY":2,"direction":"horizontal","columns":2,"columnPadding":58,"rowPadding":2,"symbolSize":22,"labelFontSize":8.5,"labelColor":"#666","labelOffset":4}},
"shape":{"field":"s","type":"nominal","scale":{"domain":["LP","LP Mean","RA","RA Mean"],"range":["circle","M-1,-0.6L-0.6,-1L0,-0.4L0.6,-1L1,-0.6L0.4,0L1,0.6L0.6,1L0,0.4L-0.6,1L-1,0.6L-0.4,0Z","circle","M-1,-0.6L-0.6,-1L0,-0.4L0.6,-1L1,-0.6L0.4,0L1,0.6L0.6,1L0,0.4L-0.6,1L-1,0.6L-0.4,0Z"]},"legend":{"title":null,"orient":"none","legendX":30,"legendY":2,"direction":"horizontal","columns":2,"columnPadding":58,"rowPadding":2,"symbolSize":22,"labelFontSize":8.5,"labelColor":"#666","labelOffset":4}}}},
{"data":{"name":"mns"},"transform":[{"filter":"datum.r == 3"}],"mark":{"type":"point","filled":true,"size":400,"opacity":1},"encoding":{"x":{"field":"v","type":"quantitative"},"y":{"field":"g","type":"quantitative"},
"color":{"field":"s","type":"nominal","scale":{"domain":["LP","LP Mean","RA","RA Mean"],"range":["#2a3aae","#4b56c4","#d42a2a","#ee3b3b"]},"legend":{"title":null,"orient":"none","legendX":30,"legendY":2,"direction":"horizontal","columns":2,"columnPadding":58,"rowPadding":2,"symbolSize":22,"labelFontSize":8.5,"labelColor":"#666","labelOffset":4}},
"shape":{"field":"s","type":"nominal","scale":{"domain":["LP","LP Mean","RA","RA Mean"],"range":["circle","M-1,-0.6L-0.6,-1L0,-0.4L0.6,-1L1,-0.6L0.4,0L1,0.6L0.6,1L0,0.4L-0.6,1L-1,0.6L-0.4,0Z","circle","M-1,-0.6L-0.6,-1L0,-0.4L0.6,-1L1,-0.6L0.4,0L1,0.6L0.6,1L0,0.4L-0.6,1L-1,0.6L-0.4,0Z"]},"legend":{"title":null,"orient":"none","legendX":30,"legendY":2,"direction":"horizontal","columns":2,"columnPadding":58,"rowPadding":2,"symbolSize":22,"labelFontSize":8.5,"labelColor":"#666","labelOffset":4}}}},
{"data":{"values":[{}]},"mark":{"type":"rect","fillOpacity":0,"stroke":"#3a3a3a","strokeWidth":2.5,"cornerRadius":2},"encoding":{"x":{"datum":40,"type":"quantitative"},"x2":{"datum":300},"y":{"datum":0,"type":"quantitative"},"y2":{"datum":1.2}}}
]},
{"width":239,"height":193,"layer":[
{"data":{"name":"grn"},"transform":[{"filter":"datum.p == '3b'"}],"mark":{"type":"rule","color":"#8cc83f","strokeWidth":2.6,"opacity":0.85},"encoding":{"x":{"field":"t","type":"quantitative","scale":{"domain":[-408.9,653.3],"nice":false,"zero":false},"axis":{"values":[-140,0,500,560],"tickCount":100,"labelExpr":"datum.value == 500 ? '' : '' + datum.value","offset":-48,"domain":false,"grid":false,"tickSize":6,"tickColor":"#333","labelFontSize":11,"labelColor":"#333","labelPadding":1,"labelFlush":false,"labelOverlap":false,"labelAlign":{"condition":{"test":"datum.value == -140","value":"left"},"value":"center"},"title":"Left Posteriorms","titleFontSize":8.5,"titleFontWeight":"normal","titleColor":"#333","titlePadding":4,"titleX":139}},"y":{"field":"lo","type":"quantitative","scale":{"domain":[-243.3,332.8],"nice":false,"zero":false},"axis":{"values":[-100,0,100,200,300],"tickCount":100,"labelExpr":"'' + datum.value","offset":-60.5,"domain":false,"grid":false,"tickSize":7,"tickColor":"#333","labelFontSize":11,"labelColor":"#333","labelPadding":4,"title":"Head & Eye Velocity","titleFontSize":8.5,"titleFontWeight":600,"titleColor":"#333","titleX":-49.5,"titleY":80}},"y2":{"field":"hi"}}},
{"data":{"name":"mln"},"transform":[{"filter":"datum.p == '3b'"}],"mark":{"type":"line","color":"#3cc0d8","strokeWidth":5.5,"interpolate":"monotone"},"encoding":{"x":{"field":"t","type":"quantitative"},"y":{"field":"v","type":"quantitative"}}},
{"data":{"name":"ann"},"transform":[{"filter":"datum.p == '3b' && datum.k == 'arrow'"}],"mark":{"type":"point","shape":"M-0.45,-1.1L0.45,-1.1L0.45,0.05L1,0.05L0,1.1L-1,0.05L-0.45,0.05Z","filled":true,"color":"#2b3990","size":900,"opacity":1},"encoding":{"x":{"field":"t","type":"quantitative"},"y":{"field":"v","type":"quantitative"}}},
{"data":{"name":"ann"},"transform":[{"filter":"datum.p == '3b' && datum.k == 'arrow'"}],"mark":{"type":"point","shape":"M-0.12,-0.85L0.12,-0.85L0.12,0.3L0.4,0.3L0,0.72L-0.4,0.3L-0.12,0.3Z","filled":true,"color":"#ffffff","size":900,"opacity":1},"encoding":{"x":{"field":"t","type":"quantitative"},"y":{"field":"v","type":"quantitative"}}},
{"data":{"name":"ann"},"transform":[{"filter":"datum.p == '3b' && datum.k == 'cursor'"}],"mark":{"type":"point","shape":"M0,0L0,1.7L0.42,1.3L0.72,2L0.98,1.88L0.68,1.2L1.2,1.2Z","filled":true,"fill":"#ffffff","stroke":"#222222","strokeWidth":1,"size":480,"opacity":1},"encoding":{"x":{"field":"t","type":"quantitative"},"y":{"field":"v","type":"quantitative"}}}
]},
{"width":230,"height":193,"layer":[
{"data":{"name":"grn"},"transform":[{"filter":"datum.p == '3c'"}],"mark":{"type":"rule","color":"#8cc83f","strokeWidth":2.6,"opacity":0.85},"encoding":{"x":{"field":"t","type":"quantitative","scale":{"domain":[-408.9,613.3],"nice":false,"zero":false},"axis":{"values":[-140,0,500,560],"tickCount":100,"labelExpr":"datum.value == 500 ? '' : '' + datum.value","offset":-48,"domain":false,"grid":false,"tickSize":6,"tickColor":"#333","labelFontSize":11,"labelColor":"#333","labelPadding":1,"labelFlush":false,"labelOverlap":false,"labelAlign":{"condition":{"test":"datum.value == -140","value":"left"},"value":"center"},"title":"Right Anteriorms","titleFontSize":8.5,"titleFontWeight":"normal","titleColor":"#333","titlePadding":4,"titleX":139}},"y":{"field":"lo","type":"quantitative","scale":{"domain":[-243.3,332.8],"nice":false,"zero":false},"axis":{"values":[-100,0,100,200,300],"tickCount":100,"labelExpr":"'' + datum.value","offset":-60.5,"domain":false,"grid":false,"tickSize":7,"tickColor":"#333","labelFontSize":11,"labelColor":"#333","labelPadding":4,"title":"Head & Eye Velocity","titleFontSize":8.5,"titleFontWeight":600,"titleColor":"#333","titleX":-49.5,"titleY":80}},"y2":{"field":"hi"}}},
{"data":{"name":"mln"},"transform":[{"filter":"datum.p == '3c'"}],"mark":{"type":"line","color":"#f5934a","strokeWidth":5.5,"interpolate":"monotone"},"encoding":{"x":{"field":"t","type":"quantitative"},"y":{"field":"v","type":"quantitative"}}}
]}
],"spacing":2,
"resolve":{"scale":{"x":"independent","y":"independent","color":"independent","shape":"independent"},"axis":{"x":"independent","y":"independent"},"legend":{"color":"independent","shape":"independent"}}}
]}
]
}
